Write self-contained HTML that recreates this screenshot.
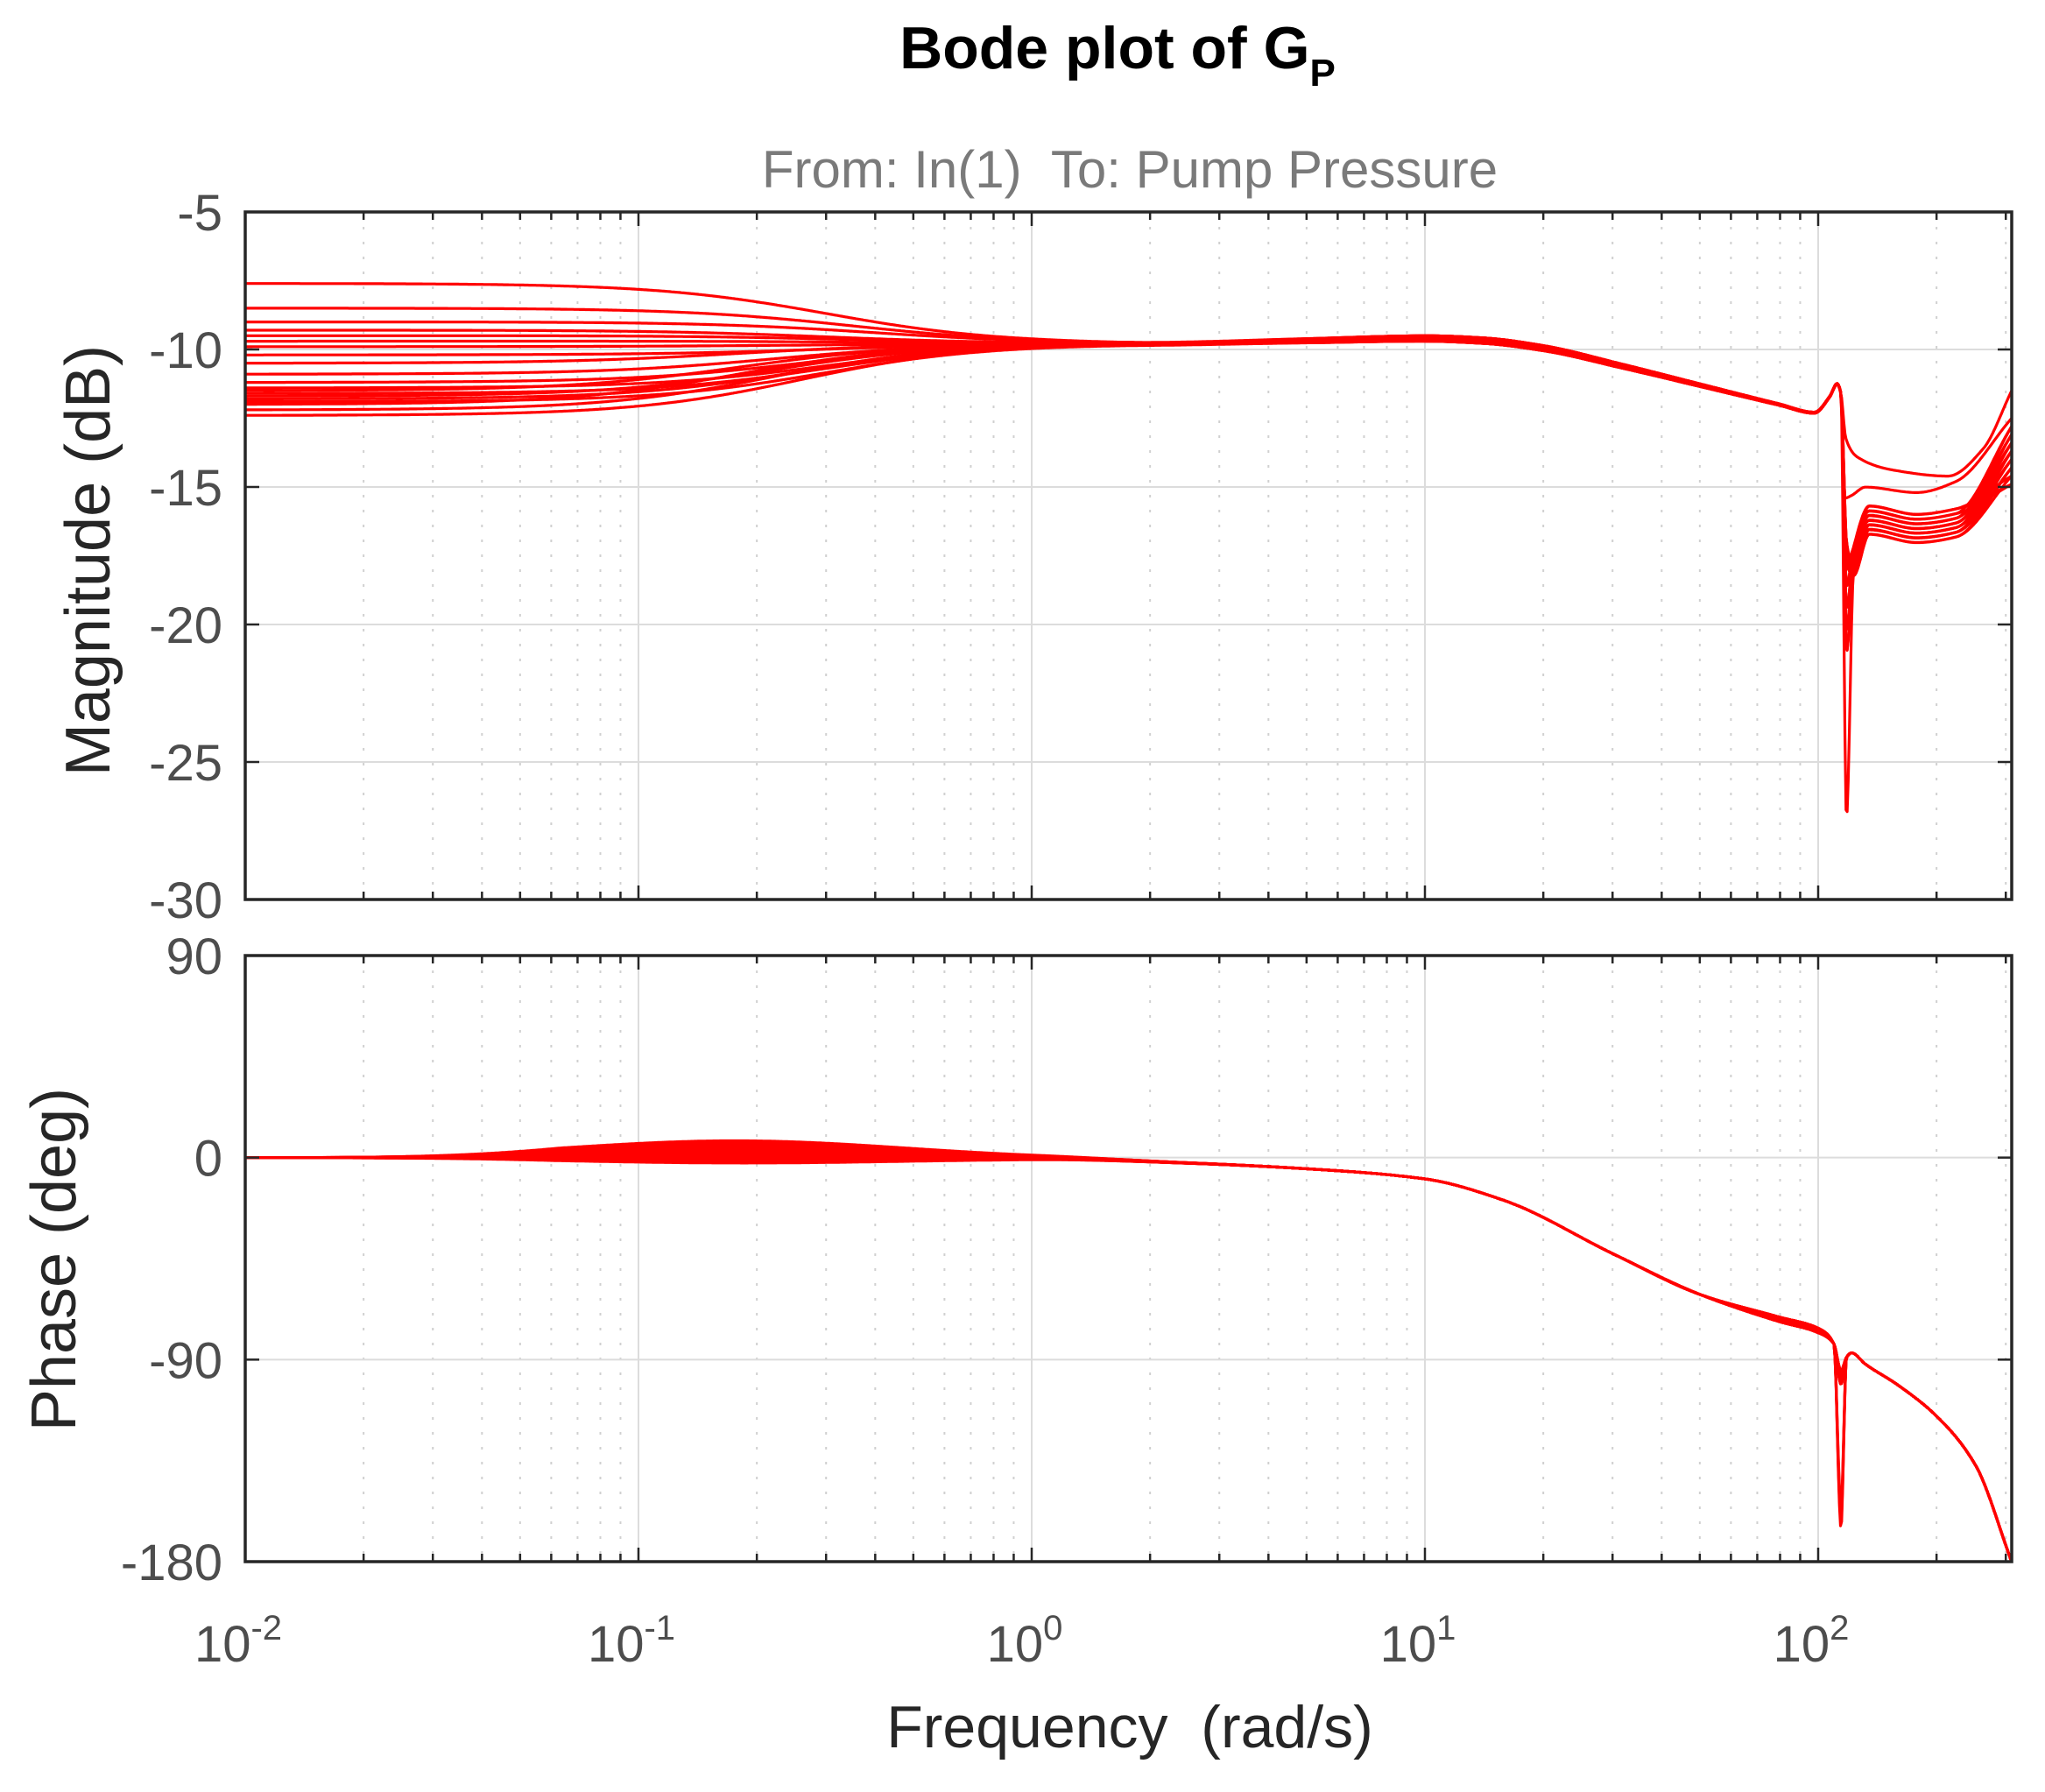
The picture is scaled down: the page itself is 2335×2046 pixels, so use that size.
<!DOCTYPE html>
<html><head><meta charset="utf-8"><style>
html,body{margin:0;padding:0;background:#fff;}
svg{display:block;}
text{font-family:"Liberation Sans",Arial,sans-serif;white-space:pre;}
</style></head><body>
<svg id="s" width="2335" height="2046" viewBox="0 0 2335 2046" xmlns="http://www.w3.org/2000/svg">
<rect width="2335" height="2046" fill="#fff"/>
<g id="grid"></g>
<g id="curves" fill="none" stroke="#ff0000" stroke-width="3.2" stroke-linejoin="round"></g>
<g id="axes"></g>
<text x="1276" y="78" font-size="68" font-weight="bold" text-anchor="middle" fill="#000">Bode plot of G<tspan font-size="44" dy="20">P</tspan></text>
<text x="1290" y="214" font-size="60" text-anchor="middle" fill="#7a7a7a">From: In(1)&#160;&#160;To: Pump&#160;Pressure</text>
<text transform="translate(125,640) rotate(-90)" font-size="72" text-anchor="middle" fill="#262626">Magnitude (dB)</text>
<text transform="translate(86,1438) rotate(-90)" font-size="72" text-anchor="middle" fill="#262626">Phase (deg)</text>
<text x="1290" y="1995" font-size="68" text-anchor="middle" fill="#262626">Frequency&#160;&#160;(rad/s)</text>
</svg>
<script>
const NS="http://www.w3.org/2000/svg";
const X0=280,DEC=449,XR=2297;
const MT=242,MB=1027,PT=1091,PB=1783;
const lx=l=>X0+(l+2)*DEC;
const my=d=>MT+(-5-d)*(MB-MT)/25;
const py=p=>PT+(90-p)*(PB-PT)/270;
function el(t,a,p){const e=document.createElementNS(NS,t);for(const k in a)e.setAttribute(k,a[k]);p.appendChild(e);return e;}
const G=document.getElementById('grid'),A=document.getElementById('axes'),C=document.getElementById('curves');
function panel(top,bot,yt){
  for(let d=-2;d<=2;d++){for(let m=1;m<=9;m++){const l=d+Math.log10(m);const x=lx(l);if(x>XR+0.5)continue;
    if(m==1){el('line',{x1:x,y1:top,x2:x,y2:bot,stroke:'#dcdcdc','stroke-width':2},G);}
    else{el('line',{x1:x,y1:top,x2:x,y2:bot,stroke:'#d0d0d0','stroke-width':2,'stroke-dasharray':'3 14'},G);}
    const tl=m==1?16:9;
    el('line',{x1:x,y1:bot,x2:x,y2:bot-tl,stroke:'#262626','stroke-width':2.5},A);
    el('line',{x1:x,y1:top,x2:x,y2:top+tl,stroke:'#262626','stroke-width':2.5},A);}}
  yt.forEach(([y,lab])=>{el('line',{x1:X0,y1:y,x2:XR,y2:y,stroke:'#dcdcdc','stroke-width':2},G);
    el('line',{x1:X0,y1:y,x2:X0+16,y2:y,stroke:'#262626','stroke-width':2.5},A);
    el('line',{x1:XR,y1:y,x2:XR-16,y2:y,stroke:'#262626','stroke-width':2.5},A);
    const t=el('text',{x:254,y:y+21,'font-size':58,'text-anchor':'end',fill:'#4d4d4d'},A);t.textContent=lab;});
  el('rect',{x:X0,y:top,width:XR-X0,height:bot-top,fill:'none',stroke:'#262626','stroke-width':3.5},A);
}
panel(MT,MB,[-5,-10,-15,-20,-25,-30].map(v=>[my(v),String(v)]));
panel(PT,PB,[[py(90),'90'],[py(0),'0'],[py(-90),'-90'],[py(-180),'-180']]);
for(let d=-2;d<=2;d++){const t=el('text',{x:lx(d)-8,y:1897,'font-size':58,'text-anchor':'middle',fill:'#4d4d4d'},A);
  t.textContent='10';const s=el('tspan',{'font-size':40,dy:-25},t);s.textContent=String(d);}
function pchip(pts){const n=pts.length,x=pts.map(p=>p[0]),y=pts.map(p=>p[1]);const h=[],dl=[];
  for(let i=0;i<n-1;i++){h[i]=x[i+1]-x[i];dl[i]=(y[i+1]-y[i])/h[i];}
  const m=new Array(n);m[0]=dl[0];m[n-1]=dl[n-2];
  for(let i=1;i<n-1;i++){if(dl[i-1]*dl[i]<=0)m[i]=0;else{const w1=2*h[i]+h[i-1],w2=h[i]+2*h[i-1];m[i]=(w1+w2)/(w1/dl[i-1]+w2/dl[i]);}}
  return l=>{if(l<=x[0])return y[0];if(l>=x[n-1])return y[n-1];let i=0;while(l>x[i+1])i++;
    const t=(l-x[i])/h[i],t2=t*t,t3=t2*t;
    return (2*t3-3*t2+1)*y[i]+(t3-2*t2+t)*h[i]*m[i]+(-2*t3+3*t2)*y[i+1]+(t3-t2)*h[i]*m[i+1];};}
const Ls=[-7.6,-8.5,-9.0,-9.3,-9.5,-9.7,-9.9,-10.2,-10.5,-10.9,-11.2,-11.4,-11.5,-11.7,-11.8,-11.9,-12.0,-12.2,-12.4,-11.6];
const N=Ls.length;
const hiBase=[[-2,-9.8],[0.3,-9.78],[0.7,-9.68],[1.0,-9.6],[1.15,-9.68],[1.3,-9.95],[1.5,-10.6],[1.7,-11.3],[1.9,-12.0],[1.99,-12.3],[2.03,-11.7],[2.048,-11.25],[2.058,-11.6]];
for(let i=0;i<N;i++){
  const L=Ls[i];const wc=L>-9.8?0.3+0.05*(i%3):0.18+0.04*(i%4);const off=(i%5-2)*0.05;
  let tail;
  if(i==0)tail=[[2.07,-13.2],[2.1,-13.9],[2.2,-14.4],[2.33,-14.6],[2.42,-13.6],[2.492,-11.5]];
  else if(i==1)tail=[[2.068,-15.4],[2.085,-15.3],[2.12,-15.0],[2.25,-15.2],[2.35,-14.8],[2.492,-12.5]];
  else{const dp=i==5?-27:-17-(i%6)*0.8;const p=-15.7-(i%7)*0.17;const e=-12.8-(i%8)*0.3;
    tail=[[2.072,dp],[2.09,p-1.5],[2.13,p],[2.25,p-0.3],[2.35,p-0.1],[2.492,e]];}
  const hi=pchip(hiBase.concat(tail));
  let d='';
  for(let k=0;k<=1600;k++){const l=-2+k*(4.492/1600);const w=Math.pow(10,l);
    let v=-9.8+(L+9.8)/(1+Math.pow(w/wc,2))+(hi(l)+9.8)+off*Math.exp(-Math.pow((l-1.1)/0.7,2));
    d+=(k?'L':'M')+lx(l).toFixed(1)+' '+my(v).toFixed(1);}
  el('path',{d:d},C);
  const a=[-2,-1,0,1,2,3,4,5,6,7,2.5,4.5,-1.5,5.5,3.5,1.5,6.5,0.5,-0.5,4][i]*1.1;
  const deep=i<4;const pdip=deep?-165+i*3:-95-(i%4)*2;
  const ph=pchip([[-2,0],[0,-0.5],[0.4,-2.5],[0.7,-5],[1.0,-9.5],[1.2,-19],[1.48,-43],[1.7,-61],[1.9,-73+(i%3)],[2.0,-78+(i%3)],[2.04,-83],[2.058,pdip],[2.072,-89],[2.085,-87],[2.12,-92],[2.2,-101],[2.3,-115],[2.4,-137],[2.492,-180]]);
  let q='';
  for(let k=0;k<=1600;k++){const l=-2+k*(4.492/1600);
    let v=ph(l)+a*Math.exp(-Math.pow((l+0.75)/0.6,2))*Math.min(1,(l+2)/0.8);
    q+=(k?'L':'M')+lx(l).toFixed(1)+' '+py(v).toFixed(1);}
  el('path',{d:q},C);
}
</script>
</body></html>
